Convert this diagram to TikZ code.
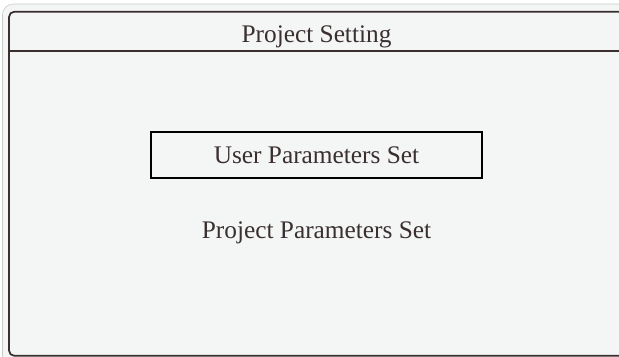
\documentclass[tikz,border=0pt]{standalone}
\usepackage{fontspec}
\setmainfont{Liberation Serif}
\usepackage[dvipsnames]{xcolor}

\definecolor{pagegray}{HTML}{F4F6F5}
\definecolor{framegray}{HTML}{C9C9C7}
\definecolor{linebrown}{HTML}{3A2E2E}
\definecolor{textbrown}{HTML}{3A3030}

\begin{document}
\begin{tikzpicture}[x=0.75pt,y=-0.75pt,node distance=58pt,
        frame/.style={draw=linebrown,line width=1.3pt},
        main node/.style={text=textbrown,font=\fontsize{19}{23}\selectfont,inner sep=0pt}]

            \useasboundingbox (0,0) rectangle (619,357);
            \fill[white] (0,0) rectangle (619,357);
            \clip (0,0) rectangle (619,357);

            % page and panel
            \draw[framegray,fill=pagegray,rounded corners=8pt] (2.5,4) rectangle (640,380);
            \draw[frame,rounded corners=4pt] (9,11.7) rectangle (630,355.8);

            \coordinate (hl) at (9,51);
            \coordinate (hr) at (630,51);
            \draw[frame] (hl) -- (hr);

            \node[main node] (title) at (316.5,36.5) {Project Setting};
            \node[main node,draw=black,line width=1.6pt,minimum width=248pt,minimum height=34pt] (user) at (316.5,155) {\raisebox{-1.5pt}{User Parameters Set}};
            \node[main node] (project) [below of = user] {Project Parameters Set};

            ;
        \end{tikzpicture}
\end{document}
